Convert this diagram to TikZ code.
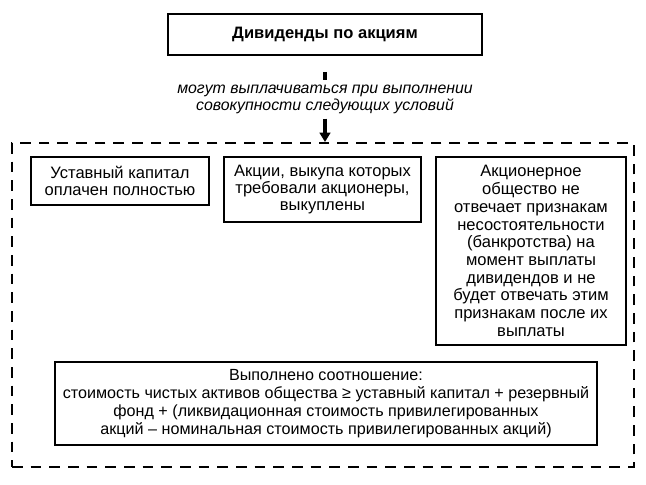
\documentclass[tikz,border=0pt]{standalone}
\usepackage{fontspec}
\setmainfont{Liberation Sans}
\usetikzlibrary{arrows.meta}
\begin{document}
\begin{tikzpicture}[x=0.75pt,y=-0.75pt,
  box/.style={draw, line width=1.2pt, align=center, inner sep=2pt,
    font=\fontsize{12.4}{13.1}\selectfont},
  frame/.style={draw, line width=1.5pt, dash pattern=on 8pt off 6pt},
  conn/.style={line width=2.4pt}]
\useasboundingbox (0,0) rectangle (646,485);
\node[box, font=\bfseries\fontsize{12.4}{14}\selectfont, minimum width=235.5pt, minimum height=30.75pt] (title) at (325,34.5) {Дивиденды по акциям};
\node[align=center, font=\itshape\fontsize{11.9}{12.8}\selectfont] (lbl) at (325,99.5) {могут выплачиваться при выполнении\\совокупности следующих условий};
\node[frame, minimum width=466.5pt, minimum height=243pt] (frame) at (323,305) {};
\node[box, minimum width=133.5pt, minimum height=36pt] (b1) at (120,181) {Уставный капитал\\оплачен полностью};
\node[box, minimum width=147.75pt, minimum height=48.75pt] (b2) at (322.5,189.5) {Акции, выкупа которых\\требовали акционеры,\\выкуплены};
\node[box, minimum width=142.5pt, minimum height=141pt, font=\fontsize{12.4}{13.3}\selectfont] (b3) at (531,251) {Акционерное\\общество не\\отвечает признакам\\несостоятельности\\(банкротства) на\\момент выплаты\\дивидендов и не\\будет отвечать этим\\признакам после их\\выплаты};
\node[box, minimum width=406.5pt, minimum height=62.25pt, font=\fontsize{12.1}{13.4}\selectfont] (b4) at (326,403.5) {Выполнено соотношение:\\стоимость чистых активов общества ≥ уставный капитал + резервный\\фонд + (ликвидационная стоимость привилегированных\\акций – номинальная стоимость привилегированных акций)};
\coordinate (bartop) at (325,72);
\draw[conn] (bartop) -- (lbl.north);
\draw[conn, -{Triangle[width=8pt,length=7pt]}] (lbl.south) -- (lbl.south |- frame.north);
\end{tikzpicture}
\end{document}
